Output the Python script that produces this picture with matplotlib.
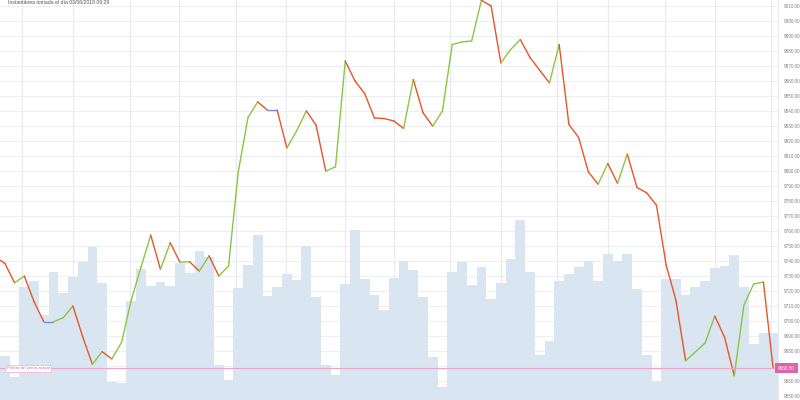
import numpy as np
import matplotlib
matplotlib.use("Agg")
import matplotlib.pyplot as plt
from matplotlib.collections import LineCollection
import matplotlib.transforms as mtransforms

# ---------------- data ----------------
title_text = "Instantánea tomada el día 03/06/2018 09:29"
current_label = "Precio de venta actual"
current_price = 9668.50

# line series (first value lies just left of the visible area)
line_index = list(range(-1, 80))
line_values = [
    9742.7, 9738.5, 9725.5, 9730.0, 9712.9, 9699.5, 9699.5, 9702.2, 9710.0, 9689.5,
    9671.1, 9679.5, 9674.7, 9685.8, 9714.0, 9736.0, 9757.3, 9734.5, 9752.2, 9739.3,
    9739.5, 9733.3, 9743.5, 9730.0, 9736.7, 9799.5, 9835.8, 9846.2, 9840.7, 9840.7,
    9815.5, 9826.9, 9840.2, 9830.7, 9800.0, 9802.9, 9873.5, 9860.2, 9851.8, 9835.5,
    9835.1, 9833.5, 9828.5, 9861.1, 9838.9, 9830.0, 9840.2, 9884.5, 9886.2, 9886.9,
    9914.0, 9910.2, 9872.2, 9881.1, 9887.8, 9875.8, 9867.3, 9858.9, 9884.5, 9831.1,
    9822.5, 9799.5, 9791.3, 9805.1, 9791.8, 9811.3, 9789.1, 9785.5, 9777.3, 9737.3,
    9714.0, 9673.5, 9679.3, 9685.3, 9703.3, 9689.3, 9663.5, 9710.7, 9724.7, 9726.0,
    9668.5,
]

bar_index = list(range(0, 80))
bar_values = [
    9676.7, 9662.9, 9722.5, 9726.7, 9704.0, 9732.9, 9718.5, 9729.5, 9739.1, 9749.1,
    9725.5, 9659.5, 9658.9, 9713.3, 9734.7, 9723.3, 9726.0, 9723.3, 9738.9, 9732.2,
    9746.7, 9742.7, 9670.9, 9660.5, 9721.8, 9737.3, 9757.3, 9716.9, 9722.5, 9731.3,
    9727.3, 9750.0, 9715.8, 9670.7, 9664.0, 9724.7, 9760.7, 9727.8, 9717.3, 9707.1,
    9728.5, 9740.2, 9734.0, 9715.8, 9675.8, 9656.2, 9732.5, 9739.1, 9724.0, 9736.2,
    9714.5, 9725.3, 9741.1, 9767.3, 9732.7, 9677.1, 9686.9, 9726.7, 9731.1, 9736.2,
    9740.0, 9726.7, 9744.7, 9740.2, 9744.5, 9721.1, 9677.3, 9660.2, 9728.0, 9728.0,
    9717.3, 9722.7, 9726.7, 9735.3, 9736.7, 9744.0, 9722.7, 9684.7, 9692.0, 9692.0,
]

y_ticks = list(range(9650, 9911, 10))
hidden_tick = 9670  # covered by the current-price badge
time_grid = [1.72, 6.96, 12.85, 17.92, 23.75, 28.96, 34.95, 39.99, 45.82,
             51.0, 56.82, 62.03, 67.85, 73.06, 78.8]

# ---------------- style ----------------
UP = "#8cc63e"
DOWN = "#e8552b"
FLAT = "#6f93d6"
BAR = "#d9e6f1"
PINK_LINE = "#e9a6c9"
PINK = "#e062a9"

fig = plt.figure(figsize=(8, 4), dpi=100)
ax = fig.add_axes([0, 0, 778 / 800, 1])
ymin, ymax = 9647.3, 9914.2
ax.set_xlim(-0.5, 79.5)
ax.set_ylim(ymin, ymax)

# grid
for t in y_ticks:
    ax.axhline(t, color="#eeeef5", lw=0.8, zorder=0)
for g in time_grid:
    ax.axvline(g, color="#ebebf3", lw=0.9, zorder=0)

# bars
ax.bar(bar_index, np.array(bar_values) - ymin, bottom=ymin, width=1.0,
       color=BAR, linewidth=0, zorder=1)

# line coloured by direction
xs = np.array(line_index, dtype=float)
ys = np.array(line_values)
segs, cols = [], []
for i in range(len(xs) - 1):
    segs.append([(xs[i], ys[i]), (xs[i + 1], ys[i + 1])])
    d = ys[i + 1] - ys[i]
    cols.append(UP if d > 0 else (DOWN if d < 0 else FLAT))
lc = LineCollection(segs, colors=cols, linewidths=1.0, zorder=3,
                    capstyle="round", joinstyle="round")
ax.add_collection(lc)

# current price line
ax.axhline(current_price, color=PINK_LINE, lw=0.8, zorder=4)
tr = mtransforms.blended_transform_factory(ax.transAxes, ax.transData)
ax.text(0.009, current_price, current_label, transform=tr, fontsize=3.2,
        family="Liberation Sans", color=PINK, va="center", ha="left", zorder=5,
        bbox=dict(boxstyle="square,pad=0.35", fc="white", ec="#f0b8d6", lw=0.6))
ax.text(1.0, current_price, f"{current_price:.2f}", transform=tr, fontsize=3.3,
        family="Liberation Sans", color="white", va="center", ha="left",
        zorder=6, clip_on=False,
        bbox=dict(boxstyle="square,pad=0.6", fc=PINK, ec=PINK, lw=0))

# axes / ticks
ax.set_xticks([])
ax.yaxis.tick_right()
ax.set_yticks(y_ticks)
ax.set_yticklabels(["" if t == hidden_tick else f"{t:.2f}" for t in y_ticks],
                   fontsize=3.3, family="Liberation Sans", color="#808080")
ax.tick_params(axis="y", length=0, pad=4)
for s in ["top", "left", "bottom"]:
    ax.spines[s].set_visible(False)
ax.spines["right"].set_color("#e4e4ec")
ax.spines["right"].set_linewidth(0.6)

fig.text(8 / 800, 0.999, title_text, fontsize=3.7, family="Liberation Sans",
         color="#555555", ha="left", va="top")

fig.savefig("out.png", dpi=100)
